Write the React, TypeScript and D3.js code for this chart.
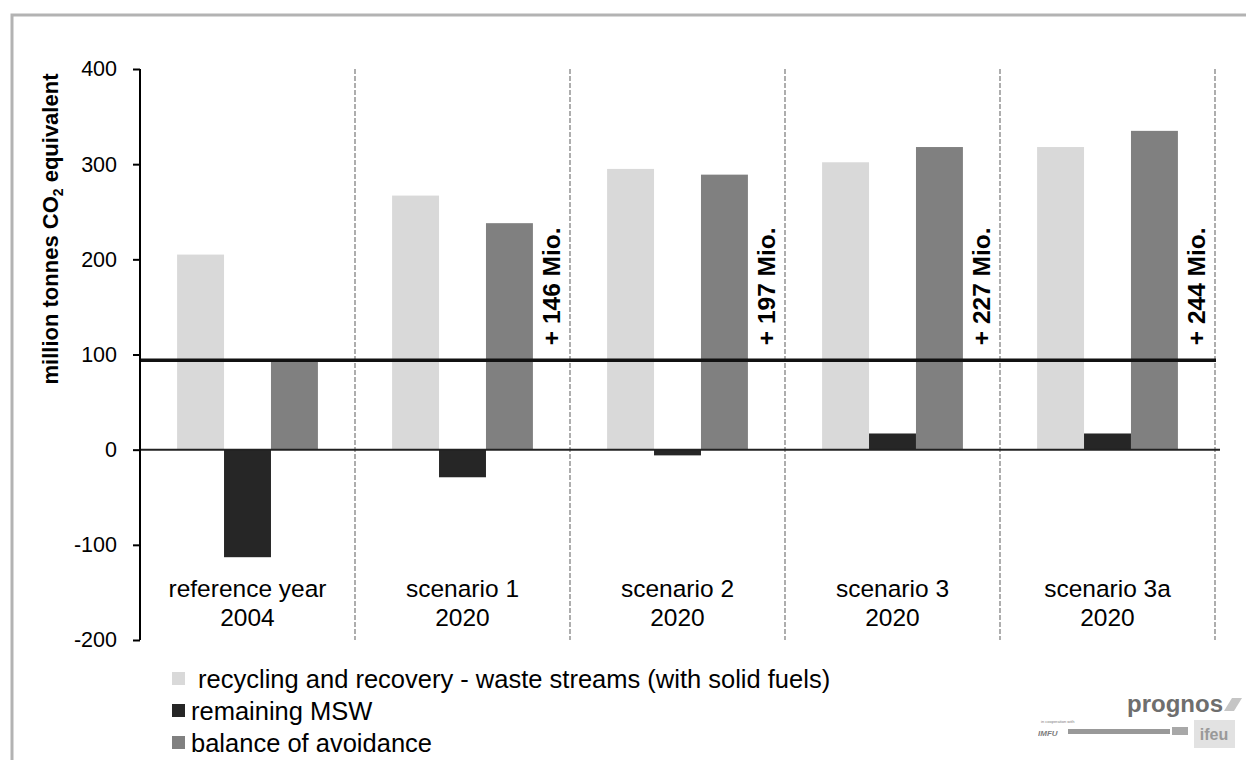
import { useEffect, useRef } from 'react';
import * as d3 from 'd3';

// chart data
const catLine1 = ['reference year', 'scenario 1', 'scenario 2', 'scenario 3', 'scenario 3a'];
const catLine2 = ['2004', '2020', '2020', '2020', '2020'];
const seriesNames = [
  ' recycling and recovery - waste streams (with solid fuels)',
  'remaining MSW',
  'balance of avoidance',
];
const seriesColors = ['#d9d9d9', '#262626', '#808080'];
const recycling = [205, 267, 295, 302, 318];
const remainingMSW = [-113, -29, -6, 17, 17];
const balance = [93, 238, 289, 318, 335];
const gainLabels = ['', '+ 146 Mio.', '+ 197 Mio.', '+ 227 Mio.', '+ 244 Mio.'];
const referenceLevel = 94;
const yTicks = [-200, -100, 0, 100, 200, 300, 400];

const FONT = '"Liberation Sans", Arial, sans-serif';

export default function App() {
  const svgRef = useRef<SVGSVGElement>(null);

  useEffect(() => {
    if (!svgRef.current) return;
    const svg = d3.select(svgRef.current);
    svg.selectAll('*').remove();

    const width = 1246;
    const height = 760;
    const margin = { top: 69, right: 31, bottom: 120, left: 140 };
    const plotRight = width - margin.right;
    const plotBottom = height - margin.bottom;

    // outer frame
    svg
      .append('path')
      .attr('d', `M12,${height} L12,15 L${width},15`)
      .attr('fill', 'none')
      .attr('stroke', '#b3b3b3')
      .attr('stroke-width', 3);

    const y = d3.scaleLinear().domain([-200, 400]).range([plotBottom, margin.top]);
    const x0 = d3
      .scaleBand<number>()
      .domain(d3.range(catLine1.length))
      .range([margin.left, plotRight])
      .padding(0);
    const x1 = d3
      .scaleBand<number>()
      .domain([0, 1, 2])
      .range([0, x0.bandwidth()])
      .paddingInner(0)
      .paddingOuter(0.79);

    const rows = catLine1.map((_, i) => [recycling[i], remainingMSW[i], balance[i]]);

    // dashed category separators
    svg
      .append('g')
      .selectAll('line')
      .data(d3.range(1, catLine1.length + 1))
      .join('line')
      .attr('x1', (i) => x0(i - 1)! + x0.bandwidth())
      .attr('x2', (i) => x0(i - 1)! + x0.bandwidth())
      .attr('y1', margin.top)
      .attr('y2', plotBottom)
      .attr('stroke', '#9a9a9a')
      .attr('stroke-width', 1.6)
      .attr('stroke-dasharray', '5,2');

    // bars
    const groups = svg
      .append('g')
      .selectAll('g')
      .data(rows)
      .join('g')
      .attr('transform', (_, i) => `translate(${x0(i)},0)`);
    groups
      .selectAll('rect')
      .data((d) => d)
      .join('rect')
      .attr('x', (_, j) => x1(j)!)
      .attr('width', x1.bandwidth())
      .attr('y', (v) => y(Math.max(0, v)))
      .attr('height', (v) => Math.abs(y(v) - y(0)))
      .attr('fill', (_, j) => seriesColors[j]);

    // zero line
    svg
      .append('line')
      .attr('x1', margin.left)
      .attr('x2', plotRight + 5)
      .attr('y1', y(0))
      .attr('y2', y(0))
      .attr('stroke', '#222')
      .attr('stroke-width', 2);

    // reference level line
    svg
      .append('line')
      .attr('x1', margin.left)
      .attr('x2', plotRight + 1)
      .attr('y1', y(referenceLevel))
      .attr('y2', y(referenceLevel))
      .attr('stroke', '#111')
      .attr('stroke-width', 3.5);

    // y axis
    const yAxis = svg
      .append('g')
      .attr('transform', `translate(${margin.left},0)`)
      .call(
        d3
          .axisLeft(y)
          .tickValues(yTicks)
          .tickSize(7)
          .tickPadding(16)
          .tickFormat((d) => String(d))
      );
    yAxis.select('.domain').attr('stroke', '#000').attr('stroke-width', 2).attr('d', `M0,${plotBottom}V${margin.top}`);
    yAxis.selectAll('.tick line').attr('stroke', '#000').attr('stroke-width', 2);
    yAxis
      .selectAll('.tick text')
      .attr('font-family', FONT)
      .attr('font-size', 21.5)
      .attr('fill', '#000');

    // y axis title
    const title = svg
      .append('text')
      .attr('transform', `translate(58,229) rotate(-90)`)
      .attr('text-anchor', 'middle')
      .attr('font-family', FONT)
      .attr('font-weight', 'bold')
      .attr('font-size', 22)
      .attr('fill', '#000');
    title.append('tspan').text('million tonnes CO');
    title.append('tspan').attr('font-size', 14).attr('dy', 5).text('2');
    title.append('tspan').attr('dy', -5).text(' equivalent');

    // category labels
    const cats = svg
      .append('g')
      .selectAll('text')
      .data(d3.range(catLine1.length))
      .join('text')
      .attr('x', (i) => x0(i)! + x0.bandwidth() / 2)
      .attr('y', y(-155))
      .attr('text-anchor', 'middle')
      .attr('font-family', FONT)
      .attr('font-size', 24.5)
      .attr('fill', '#000');
    cats.append('tspan').text((i) => catLine1[i]);
    cats
      .append('tspan')
      .attr('x', (i) => x0(i)! + x0.bandwidth() / 2)
      .attr('dy', 29)
      .text((i) => catLine2[i]);

    // gain labels
    svg
      .append('g')
      .selectAll('text')
      .data(d3.range(catLine1.length).filter((i) => gainLabels[i]))
      .join('text')
      .attr('transform', (i) => `translate(${x0(i)! + x0.bandwidth() - 10},${y(referenceLevel) - 15}) rotate(-90)`)
      .attr('font-family', FONT)
      .attr('font-weight', 'bold')
      .attr('font-size', 24.5)
      .attr('fill', '#000')
      .text((i) => gainLabels[i]);

    // legend
    const legend = svg
      .append('g')
      .selectAll('g')
      .data(seriesNames)
      .join('g')
      .attr('transform', (_, i) => `translate(172,${672 + i * 32})`);
    legend
      .append('rect')
      .attr('width', 13)
      .attr('height', 13)
      .attr('fill', (_, i) => seriesColors[i]);
    legend
      .append('text')
      .attr('x', 19)
      .attr('y', 16)
      .attr('font-family', FONT)
      .attr('font-size', 25.5)
      .attr('fill', '#000')
      .style('white-space', 'pre')
      .text((d) => d);

    // logo block (prognos / ifeu)
    const logo = svg.append('g').attr('opacity', 0.85);
    logo
      .append('text')
      .attr('x', 1127)
      .attr('y', 712)
      .attr('font-family', FONT)
      .attr('font-weight', 'bold')
      .attr('font-size', 23)
      .attr('textLength', 96)
      .attr('lengthAdjust', 'spacingAndGlyphs')
      .attr('fill', '#555')
      .text('prognos');
    logo
      .append('path')
      .attr('d', 'M1224,711 L1232,698 L1242,698 L1234,711 Z')
      .attr('fill', '#bbb');
    logo
      .append('text')
      .attr('x', 1041)
      .attr('y', 723)
      .attr('font-family', FONT)
      .attr('font-size', 4)
      .attr('fill', '#666')
      .text('in cooperation with');
    logo
      .append('text')
      .attr('x', 1038)
      .attr('y', 736)
      .attr('font-family', FONT)
      .attr('font-style', 'italic')
      .attr('font-weight', 'bold')
      .attr('font-size', 8)
      .attr('fill', '#666')
      .text('IMFU');
    logo.append('rect').attr('x', 1068).attr('y', 729).attr('width', 102).attr('height', 5).attr('fill', '#888');
    logo.append('rect').attr('x', 1172).attr('y', 727).attr('width', 16).attr('height', 8).attr('fill', '#999');
    logo.append('rect').attr('x', 1194).attr('y', 720).attr('width', 41).attr('height', 28).attr('fill', '#ddd');
    logo
      .append('text')
      .attr('x', 1214)
      .attr('y', 740)
      .attr('text-anchor', 'middle')
      .attr('font-family', FONT)
      .attr('font-weight', 'bold')
      .attr('font-size', 16)
      .attr('fill', '#888')
      .text('ifeu');
  }, []);

  return (
    <svg
      ref={svgRef}
      width={1246}
      height={760}
      style={{ position: 'absolute', left: 0, top: 0, background: '#fff' }}
    ></svg>
  );
}
